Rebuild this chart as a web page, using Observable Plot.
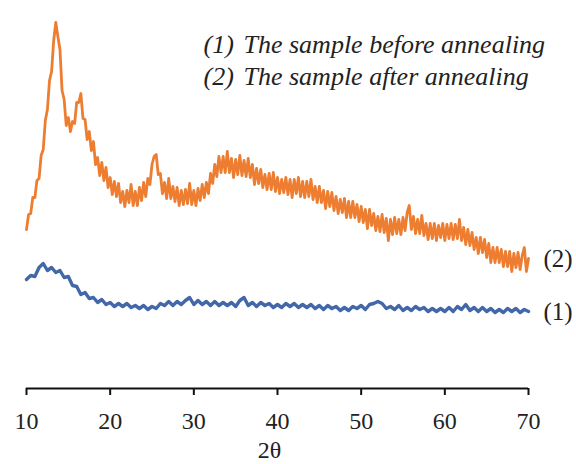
<!DOCTYPE html>
<html><head><meta charset="utf-8">
<script src="https://cdn.jsdelivr.net/npm/d3@7"></script>
<script src="https://cdn.jsdelivr.net/npm/@observablehq/plot@0.6"></script>
<style>
html,body{margin:0;padding:0;background:#fff;}
#chart{width:576px;height:464px;}
</style></head><body><div id="chart"></div>
<script>
const xTicks = [10, 20, 30, 40, 50, 60, 70];
const xLabel = "2θ";
const legendNumbers = ["(1)", "(2)"];
const legendTexts = ["The sample before annealing", "The sample after annealing"];
const seriesTags = ["(1)", "(2)"];

// (2) after annealing: 2θ from 10 to 70 step 0.25 (intensity, arbitrary units)
const afterStart = 10, afterStep = 0.25;
const afterIntensity = [
  159,174,175,191,191,208,210,233,239,268,279,308,
  317,348,366,352,339,298,289,263,271,257,267,265,
  286,286,295,270,269,249,257,238,247,224,231,213,
  226,208,221,201,211,194,207,192,205,186,197,182,
  198,186,204,183,197,183,201,188,206,192,210,204,
  224,232,234,214,215,195,206,190,210,190,202,187,
  201,183,198,184,199,185,205,184,198,183,200,188,
  204,191,206,195,215,205,224,212,232,216,232,216,
  237,216,230,211,229,214,233,213,228,212,230,211,
  224,204,220,205,219,201,214,199,215,199,216,197,
  211,195,209,196,211,194,209,191,209,195,211,192,
  207,191,207,192,209,189,202,186,202,186,198,180,
  197,182,196,178,192,175,189,176,190,171,187,171,
  187,171,184,167,182,166,179,160,179,163,175,158,
  172,157,174,156,170,148,169,154,171,155,169,154,
  171,158,176,183,159,172,155,169,155,173,153,165,
  149,165,150,165,148,163,151,165,148,164,150,165,
  149,164,150,169,148,161,144,159,143,156,139,151,
  135,151,136,149,131,145,126,141,126,141,126,139,
  122,137,122,137,117,135,121,136,119,133,141,117,
  130
];

// (1) before annealing: 2θ from 10 to 70 step 0.5
const beforeStart = 10, beforeStep = 0.5;
const beforeIntensity = [
  109,113,112,121,125,118,121,116,118,111,112,103,
  102,94,96,90,91,86,89,84,86,82,85,82,
  85,81,83,80,83,79,82,80,85,83,87,83,
  87,84,88,91,84,88,84,87,83,87,83,86,
  83,86,82,88,91,83,86,82,86,83,85,81,
  84,81,85,82,85,81,84,81,84,80,83,79,
  83,80,82,78,81,78,82,80,83,79,84,85,
  87,85,80,82,79,83,78,81,78,82,79,81,
  77,80,77,80,77,81,77,82,79,84,78,81,
  77,81,77,80,76,79,76,80,77,80,76,79,
  77
];

const after = afterIntensity.map((v, i) => ({x: afterStart + i * afterStep, y: v}));
const before = beforeIntensity.map((v, i) => ({x: beforeStart + i * beforeStep, y: v}));
const ends = [
  {...before[before.length - 1], tag: seriesTags[0]},
  {...after[after.length - 1], tag: seriesTags[1]}
];

const serif = "'Liberation Serif', 'Times New Roman', serif";
const orange = "#ED7D31";
const blue = "#4368AA";

const chart = Plot.plot({
  width: 576,
  height: 464,
  marginLeft: 26,
  marginRight: 48,
  marginTop: 0,
  marginBottom: 76,
  style: {fontFamily: serif, background: "#fff", color: "#222"},
  x: {domain: [10, 70]},
  y: {domain: [0, 388], axis: null},
  marks: [
    Plot.ruleY([0], {strokeWidth: 2, stroke: "#111"}),
    Plot.axisX({ticks: xTicks, tickSize: 7, tickPadding: 16, strokeWidth: 2, stroke: "#111",
      fontSize: 24, fill: "#222", label: null}),
    Plot.text([xLabel], {frameAnchor: "bottom", dy: 62, dx: -8, lineAnchor: "middle",
      fontSize: 24, fill: "#222"}),
    Plot.line(before, {x: "x", y: "y", stroke: blue, strokeWidth: 3.4}),
    Plot.line(after, {x: "x", y: "y", stroke: orange, strokeWidth: 2.8}),
    Plot.text(ends, {x: "x", y: "y", text: "tag", textAnchor: "start", dx: 15, fontSize: 25, fill: "#222"}),
    Plot.text([legendNumbers.join("\n")], {frameAnchor: "top-left", dx: 177, dy: 30, lineAnchor: "top",
      lineHeight: 1.23, fontSize: 26, fontStyle: "italic", fill: "#222", textAnchor: "start"}),
    Plot.text([legendTexts.join("\n")], {frameAnchor: "top-left", dx: 217, dy: 30, lineAnchor: "top",
      lineHeight: 1.23, fontSize: 26, fontStyle: "italic", fill: "#222", textAnchor: "start"})
  ]
});
document.getElementById("chart").appendChild(chart);
</script>
</body></html>
